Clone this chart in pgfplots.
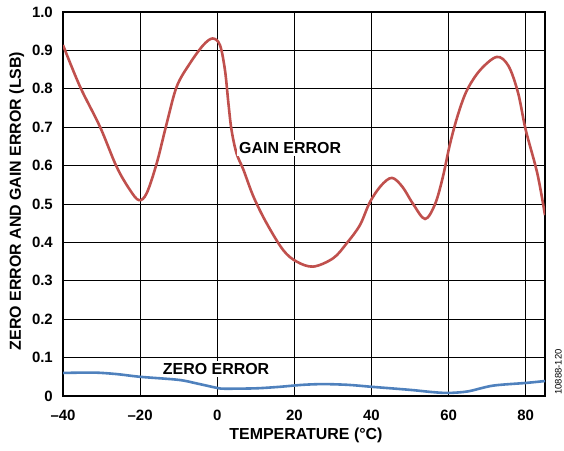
\documentclass[border=0pt]{standalone}
\usepackage{pgfplots}
\pgfplotsset{compat=1.18}
\usetikzlibrary{calc}
\usepackage{fontspec}
\setmainfont{Liberation Sans}
\definecolor{gainred}{RGB}{192,80,77}
\definecolor{zeroblue}{RGB}{79,129,189}
\begin{document}
\begin{tikzpicture}
\begin{axis}[
  name=ax,
  scale only axis,
  width=482bp, height=384bp,
  xmin=-40, xmax=85, ymin=0, ymax=1.0,
  xtick={-40,-20,0,20,40,60,80},
  xticklabels={–40,–20,0,20,40,60,80},
  ytick={0,0.1,0.2,0.3,0.4,0.5,0.6,0.7,0.8,0.9,1.0},
  yticklabels={0,0.1,0.2,0.3,0.4,0.5,0.6,0.7,0.8,0.9,1.0},
  major tick length=0pt,
  grid=major,
  major grid style={black, line width=1bp},
  axis line style={black, line width=1.8bp},
  tick label style={font=\bfseries\fontsize{15}{15}\selectfont, inner sep=0pt},
  xticklabel style={anchor=north, yshift=-14bp},
  yticklabel style={anchor=east, xshift=-10bp},
  xlabel={TEMPERATURE (°C)},
  ylabel={ZERO ERROR AND GAIN ERROR (LSB)},
  xlabel style={font=\bfseries\fontsize{16}{16}\selectfont, inner sep=0pt,
    at={($(axis description cs:0.5,0)+(2bp,-32bp)$)}, anchor=north},
  ylabel style={font=\bfseries\fontsize{16}{16}\selectfont, inner sep=0pt,
    at={($(axis description cs:0,0.508)+(-42bp,0)$)}, anchor=base, rotate=0},
  clip=true,
]
\addplot[gainred, line width=2.6bp, smooth, tension=0.55] coordinates {
(-40,0.914) (-35.6,0.806) (-30.4,0.701) (-26.1,0.597) (-22.6,0.536) (-20.3,0.510) (-18.3,0.528) (-15.7,0.606) (-13.1,0.710) (-10.5,0.806) (-7.1,0.866) (-3.6,0.914) (-1.2,0.931) (0.7,0.914) (2.0,0.849) (2.9,0.762) (3.7,0.693) (5.0,0.632) (6.8,0.589) (9.4,0.519) (12.8,0.450) (17.1,0.380) (20.6,0.350) (24.9,0.337) (30.1,0.359) (33.6,0.398) (37.0,0.445) (39.6,0.505) (42.5,0.548) (45.3,0.568) (48,0.545) (50.8,0.500) (53.9,0.461) (56.5,0.500) (58.5,0.570) (60.4,0.658) (62.5,0.735) (64.8,0.797) (68.2,0.849) (72.5,0.883) (75.5,0.860) (78,0.790) (80,0.693) (83,0.580) (85,0.471)
};
\addplot[zeroblue, line width=2.6bp, smooth, tension=0.5] coordinates {
(-40,0.060) (-32,0.061) (-26,0.057) (-20,0.050) (-10,0.042) (-5,0.032) (0,0.021) (2,0.019) (10,0.020) (16.3,0.024) (22,0.029) (27.5,0.031) (34,0.029) (40,0.024) (50,0.016) (56,0.010) (60,0.008) (65,0.012) (71.5,0.027) (80,0.034) (85,0.039)
};
\node[fill=white, inner sep=2bp, font=\bfseries\fontsize{16}{16}\selectfont] at (axis cs:18.9,0.646) {GAIN ERROR};
\node[fill=white, inner sep=2bp, font=\bfseries\fontsize{16}{16}\selectfont] at (axis cs:-0.3,0.070) {ZERO ERROR};
\coordinate (sw) at (rel axis cs:0,0);
\coordinate (ne) at (rel axis cs:1,1);
\end{axis}
\node[rotate=90, anchor=south, font=\fontsize{9.5}{9.5}\selectfont, inner sep=0pt] at ([xshift=17bp, yshift=24bp]sw -| ne) {10888-120};
\pgfresetboundingbox
\path[use as bounding box] ([xshift=-63bp, yshift=-54bp]sw) rectangle ([xshift=19bp, yshift=12bp]ne);
\end{tikzpicture}
\end{document}
